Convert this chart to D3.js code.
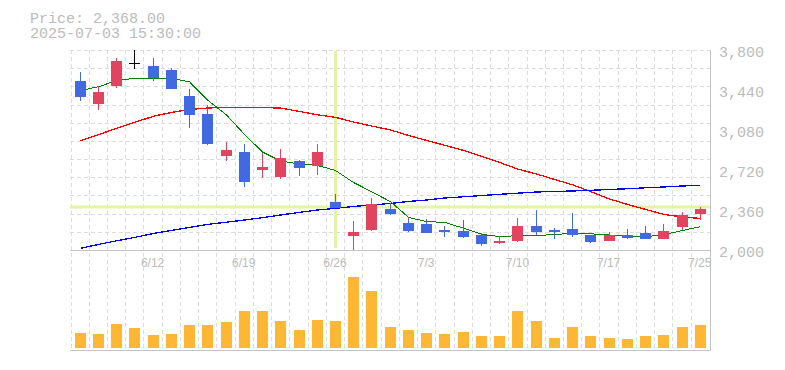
<!DOCTYPE html>
<html>
<head>
<meta charset="utf-8">
<script src="https://d3js.org/d3.v7.min.js"></script>
<style>
  body { margin: 0; background: #fff; }
  svg { display: block; }
</style>
</head>
<body>
<script type="text/javascript">

  // trading days on the chart (7/21 was a holiday)
  var dates = [
    "2025-06-06","2025-06-09","2025-06-10","2025-06-11","2025-06-12",
    "2025-06-13","2025-06-16","2025-06-17","2025-06-18","2025-06-19",
    "2025-06-20","2025-06-23","2025-06-24","2025-06-25","2025-06-26",
    "2025-06-27","2025-06-30","2025-07-01","2025-07-02","2025-07-03",
    "2025-07-04","2025-07-07","2025-07-08","2025-07-09","2025-07-10",
    "2025-07-11","2025-07-14","2025-07-15","2025-07-16","2025-07-17",
    "2025-07-18","2025-07-22","2025-07-23","2025-07-24","2025-07-25"
  ];

  // daily prices
  var open  = [3521,3314,3479,3680,3656,3620,3386,3224,2849,2882,2723,2660,2801,2759,2435,
               2126,2180,2372,2243,2234,2183,2171,2138,2066,2084,2216,2180,2189,2132,2084,
               2132,2153,2102,2210,2327];
  var high  = [3599,3473,3725,3800,3731,3635,3449,3305,2972,2954,2876,2909,2810,2954,2504,
               2261,2468,2426,2294,2279,2216,2270,2150,2129,2288,2360,2201,2330,2132,2159,
               2189,2216,2234,2342,2387];
  var low   = [3344,3263,3461,3626,3524,3452,3101,2945,2801,2570,2651,2639,2666,2675,2378,
               2000,2171,2318,2165,2156,2117,2111,2039,2051,2075,2132,2102,2120,2066,2084,
               2096,2102,2102,2180,2273];
  var close = [3380,3422,3701,3680,3545,3452,3218,2954,2900,2615,2747,2828,2741,2882,2378,
               2162,2414,2327,2174,2156,2165,2120,2057,2081,2216,2162,2165,2138,2075,2135,
               2111,2102,2171,2315,2368];

  var volume = [147000,137000,237000,197000,127000,137000,227000,227000,257000,367000,
                367000,267000,177000,277000,267000,707000,567000,207000,177000,147000,
                137000,157000,117000,117000,367000,267000,97000,207000,117000,97000,
                87000,117000,127000,207000,227000];

  // moving averages
  var maShort = [3436,3469,3525,3545,3545,3545,3514,3350,3215,3040,2882,2801,2774,2761,2716,
                 2608,2525,2435,2294,2255,2249,2196,2142,2120,2129,2129,2140,2150,2146,2135,
                 2124,2119,2137,2176,2210];
  var maMid   = [2984,3039,3094,3148,3204,3238,3265,3278,3283,3283,3281,3278,3247,3217,3194,
                 3152,3116,3080,3031,2986,2943,2896,2842,2788,2729,2684,2635,2587,2527,2459,
                 2410,2365,2321,2297,2284];
  var maLong  = [2015,2050,2083,2113,2149,2176,2204,2230,2250,2270,2291,2315,2339,2360,2375,
                 2392,2405,2419,2437,2450,2468,2479,2490,2501,2511,2522,2527,2531,2537,2545,
                 2551,2560,2567,2576,2582];

  var priceTicks = [2000, 2360, 2720, 3080, 3440, 3800];
  var dateTicks = ["2025-06-12","2025-06-19","2025-06-26","2025-07-03","2025-07-10","2025-07-17","2025-07-25"];

  // cursor readout
  var cursorDate = "2025-06-26";
  var cursorPrice = 2390;
  var readout = ["Price: 2,368.00", "2025-07-03 15:30:00"];

  function draw() {
      "use strict";
      var width = 785, height = 370;
      var left = 70, right = 710, top = 50, bottom = 250;

      var svg = d3.select("body")
        .append("svg")
          .attr("width", width)
          .attr("height", height);

      var x = d3.scaleBand().domain(dates).range([70.5, 708.9]);
      var y = d3.scaleLinear().domain([2000, 3800]).range([bottom, top]);
      var yVol = d3.scaleLinear().domain([0, 800000]).range([348, 268]);

      function cx(d) { return Math.round(x(d) + x.bandwidth() / 2) + 0.5; }

      svg.append("clipPath").attr("id", "plot")
        .append("rect")
          .attr("x", left).attr("y", top)
          .attr("width", right - left).attr("height", bottom - top);

      /* grid */
      var grid = svg.append("g")
          .style("stroke", "#dcdcdc")
          .style("stroke-dasharray", "4,3")
          .style("shape-rendering", "crispEdges");
      grid.selectAll("line.v")
          .data(dates)
        .enter().append("line")
          .attr("x1", function(d) { return Math.round(x(d)) + 0.5; })
          .attr("x2", function(d) { return Math.round(x(d)) + 0.5; })
          .attr("y1", top)
          .attr("y2", 350);
      var yr = y.range();
      grid.selectAll("line.h")
          .data(d3.range(0, 11))
        .enter().append("line")
          .attr("x1", left)
          .attr("x2", right)
          .attr("y1", function(k) { return Math.round(yr[1] + k * (yr[0] - yr[1]) / 11) + 0.5; })
          .attr("y2", function(k) { return Math.round(yr[1] + k * (yr[0] - yr[1]) / 11) + 0.5; });

      /* crosshair (under everything else) */
      svg.append("line")
          .attr("x1", cx(cursorDate)).attr("x2", cx(cursorDate))
          .attr("y1", 51).attr("y2", 248)
          .style("stroke", "#e4f4a4")
          .style("stroke-width", 3);
      svg.append("line")
          .attr("x1", left).attr("x2", right)
          .attr("y1", Math.round(y(cursorPrice))).attr("y2", Math.round(y(cursorPrice)))
          .style("stroke", "#e4f4a4")
          .style("stroke-width", 3);

      /* moving averages */
      var plot = svg.append("g").attr("clip-path", "url(#plot)");
      function maLine(values, color, w) {
          var line = d3.line()
              .x(function(d, i) { return cx(dates[i]); })
              .y(function(d) { return y(d); });
          plot.append("path")
              .datum(values)
              .attr("d", line)
              .style("fill", "none")
              .style("stroke", color)
              .style("stroke-width", w)
              .style("shape-rendering", "crispEdges");
      }
      maLine(maMid, "#ff0000", 1.3);
      maLine(maLong, "#0000ff", 1.3);
      maLine(maShort, "#008000", 1);

      /* candles */
      var candles = dates.map(function(d, i) {
          return {date: d, o: open[i], h: high[i], l: low[i], c: close[i]};
      });
      function colorOf(d) {
          if (d.c > d.o) return "#e2435f";
          if (d.c < d.o) return "#4169e1";
          return "#000";
      }
      var cg = plot.selectAll("g.candle")
          .data(candles)
        .enter().append("g")
          .style("shape-rendering", "crispEdges");
      cg.append("line")
          .attr("x1", function(d) { return cx(d.date); })
          .attr("x2", function(d) { return cx(d.date); })
          .attr("y1", function(d) { return y(d.h); })
          .attr("y2", function(d) { return y(d.l); })
          .style("stroke", colorOf);
      cg.append("rect")
          .attr("x", function(d) { return cx(d.date) - 5.5; })
          .attr("width", 11)
          .attr("y", function(d) { return Math.round(y(Math.max(d.o, d.c))); })
          .attr("height", function(d) {
              return Math.max(1, Math.round(y(Math.min(d.o, d.c))) - Math.round(y(Math.max(d.o, d.c))));
          })
          .style("fill", colorOf);

      /* volume */
      svg.append("g")
          .style("shape-rendering", "crispEdges")
        .selectAll("rect")
          .data(volume)
        .enter().append("rect")
          .attr("x", function(d, i) { return cx(dates[i]) - 5.5; })
          .attr("width", 11)
          .attr("y", function(d) { return Math.round(yVol(d)); })
          .attr("height", function(d) { return Math.round(yVol(0)) - Math.round(yVol(d)); })
          .style("fill", "#fdb735");

      /* frame lines */
      var frame = svg.append("g")
          .style("stroke", "#c4c4c4")
          .style("shape-rendering", "crispEdges");
      frame.append("line").attr("x1", left).attr("x2", right + 1).attr("y1", 250.5).attr("y2", 250.5);
      frame.append("line").attr("x1", left).attr("x2", right + 1).attr("y1", 350.5).attr("y2", 350.5);
      frame.append("line").attr("x1", right + 0.5).attr("x2", right + 0.5).attr("y1", top).attr("y2", 351);

      /* axes */
      var yAxis = d3.axisRight(y)
          .tickValues(priceTicks)
          .tickSize(0)
          .tickPadding(9)
          .tickFormat(d3.format(","));
      var ya = svg.append("g")
          .attr("transform", "translate(" + right + ",0)")
          .call(yAxis);
      ya.select(".domain").remove();
      ya.selectAll("text")
          .attr("dy", "0.43em")
          .style("font-family", "'Liberation Mono', monospace")
          .style("font-size", "15px")
          .style("fill", "#bbbbbb");

      var xAxis = d3.axisBottom(x)
          .tickValues(dateTicks)
          .tickSize(0)
          .tickPadding(8)
          .tickFormat(function(d) {
              var p = d.split("-");
              return (+p[1]) + "/" + (+p[2]);
          });
      var xa = svg.append("g")
          .attr("transform", "translate(0," + bottom + ")")
          .call(xAxis);
      xa.select(".domain").remove();
      xa.selectAll("text")
          .style("font-family", "'Liberation Sans', Arial, sans-serif")
          .style("font-size", "12px")
          .style("fill", "#bbbbbb");

      /* readout text */
      svg.selectAll("text.readout")
          .data(readout)
        .enter().append("text")
          .attr("x", 30)
          .attr("y", function(d, i) { return 22.5 + i * 15; })
          .style("font-family", "'Liberation Mono', monospace")
          .style("font-size", "15px")
          .style("fill", "#bbbbbb")
          .text(function(d) { return d; });
  }

  draw();
</script>
</body>
</html>
